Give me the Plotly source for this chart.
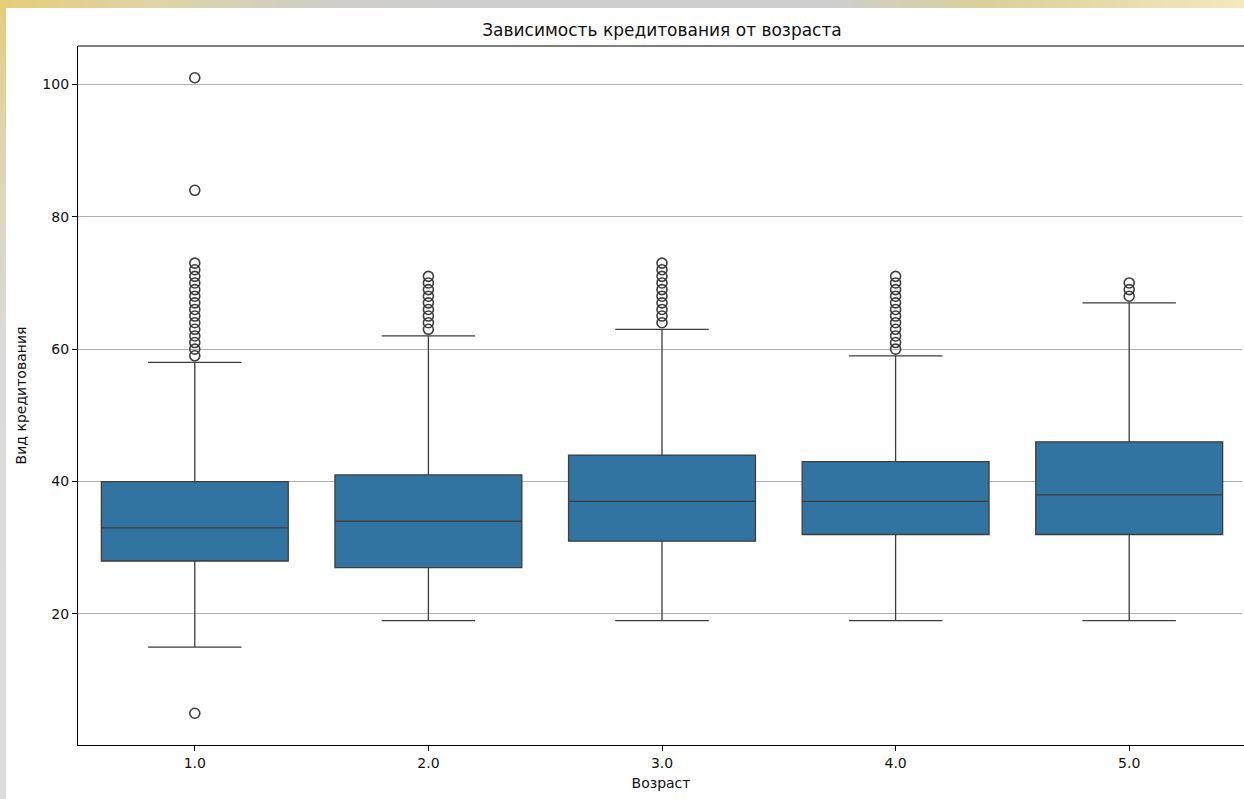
import plotly.graph_objects as go

# ---- data ----
categories = ["1.0", "2.0", "3.0", "4.0", "5.0"]
q1_vals = [28, 27, 31, 32, 32]
median_vals = [33, 34, 37, 37, 38]
q3_vals = [40, 41, 44, 43, 46]
lower_whiskers = [15, 19, 19, 19, 19]
upper_whiskers = [58, 62, 63, 59, 67]
outliers = {
    "1.0": [5] + list(range(59, 74)) + [84, 101],
    "2.0": list(range(63, 72)),
    "3.0": list(range(64, 74)),
    "4.0": list(range(60, 72)),
    "5.0": [68, 69, 70],
}

title_text = "Зависимость кредитования от возраста"
x_label = "Возраст"
y_label = "Вид кредитования"
y_ticks = [20, 40, 60, 80, 100]

W, H = 1244, 799
L, R_PX, T, B_PX = 78, 1244, 46, 745
FILL = "#3274a1"
LINE = "#3d3d3d"
FONT = "DejaVu Sans"

fig = go.Figure()
fig.add_trace(go.Box(
    x=categories, q1=q1_vals, median=median_vals, q3=q3_vals,
    lowerfence=lower_whiskers, upperfence=upper_whiskers,
    fillcolor=FILL, line=dict(color=LINE, width=1.3),
    width=0.8, whiskerwidth=0.5, boxpoints=False, showlegend=False,
    hoverinfo="skip",
))
ox, oy = [], []
for c in categories:
    for v in outliers[c]:
        ox.append(c)
        oy.append(v)
fig.add_trace(go.Scatter(
    x=ox, y=oy, mode="markers", showlegend=False,
    marker=dict(symbol="circle-open", size=10, color=LINE, line=dict(width=1.6, color=LINE)),
    hoverinfo="skip",
))

# screenshot border gradient (decorative)
def px_to_paper_x(px):
    return (px - L) / (R_PX - L)

def px_to_paper_y(py):
    return (B_PX - py) / (B_PX - T)

def lerp(c1, c2, t):
    return tuple(int(round(a + (b - a) * t)) for a, b in zip(c1, c2))

top_stops = [(0, (229, 206, 120)), (150, (222, 212, 165)), (320, (207, 206, 200)),
             (450, (206, 206, 206)), (830, (206, 206, 206)), (985, (218, 208, 152)),
             (1244, (243, 233, 190))]
shapes = []
step = 12
for x0 in range(0, W, step):
    x1 = min(W, x0 + step)
    xm = (x0 + x1) / 2
    for (a, ca), (b, cb) in zip(top_stops[:-1], top_stops[1:]):
        if a <= xm <= b:
            col = lerp(ca, cb, (xm - a) / (b - a))
            break
    shapes.append(dict(type="rect", xref="paper", yref="paper",
                       x0=px_to_paper_x(x0), x1=px_to_paper_x(x1 + 0.5),
                       y0=px_to_paper_y(8), y1=px_to_paper_y(0),
                       fillcolor="rgb(%d,%d,%d)" % col, line=dict(width=0), layer="above"))
left_stops = [(8, (229, 206, 120)), (150, (222, 214, 180)), (350, (218, 218, 216)), (799, (221, 221, 221))]
for y0 in range(8, H, step):
    y1 = min(H, y0 + step)
    ym = (y0 + y1) / 2
    for (a, ca), (b, cb) in zip(left_stops[:-1], left_stops[1:]):
        if a <= ym <= b:
            col = lerp(ca, cb, (ym - a) / (b - a))
            break
    shapes.append(dict(type="rect", xref="paper", yref="paper",
                       x0=px_to_paper_x(0), x1=px_to_paper_x(6),
                       y0=px_to_paper_y(y1 + 0.5), y1=px_to_paper_y(y0),
                       fillcolor="rgb(%d,%d,%d)" % col, line=dict(width=0), layer="above"))
# cover right edge of plot area (the reference's right spine is cut off)
shapes.append(dict(type="rect", xref="paper", yref="paper",
                   x0=px_to_paper_x(1242.4), x1=px_to_paper_x(1250),
                   y0=px_to_paper_y(B_PX - 1), y1=px_to_paper_y(T + 1),
                   fillcolor="white", line=dict(width=0), layer="above"))
# top spine
shapes.append(dict(type="line", xref="paper", yref="paper", x0=0, x1=1.01, y0=1, y1=1,
                   line=dict(color="black", width=1.2), layer="above"))

fig.update_layout(
    width=W, height=H,
    margin=dict(l=L, r=W - R_PX, t=T, b=H - B_PX, pad=0),
    paper_bgcolor="white", plot_bgcolor="white",
    font=dict(family=FONT, size=14, color="#111111"),
    title=dict(text=title_text, x=(662) / W, xanchor="center", y=1 - 30 / H, yanchor="middle",
               font=dict(family=FONT, size=17, color="#111111")),
    shapes=shapes,
    showlegend=False,
)
fig.update_xaxes(
    type="category", categoryorder="array", categoryarray=categories,
    range=[-0.5, -0.5 + (R_PX - L) / 233.6],
    showline=True, linecolor="black", linewidth=1.2, mirror=False,
    ticks="outside", ticklen=5, tickcolor="black", tickwidth=1,
    showgrid=False, zeroline=False,
    title=dict(text=x_label, standoff=8, font=dict(size=14)),
    tickfont=dict(size=14),
)
fig.update_yaxes(
    range=[0.2, 105.8], tickvals=y_ticks,
    showline=True, linecolor="black", linewidth=1.2, mirror=False,
    ticks="outside", ticklen=5, tickcolor="black", tickwidth=1,
    showgrid=True, gridcolor="#b0b0b0", gridwidth=1, zeroline=False,
    title=dict(text=y_label, standoff=12, font=dict(size=14)),
    tickfont=dict(size=14),
)
fig.write_html("out.html", config={"displayModeBar": False},
               post_script="document.body.style.margin='0';document.body.style.overflow='hidden';")
